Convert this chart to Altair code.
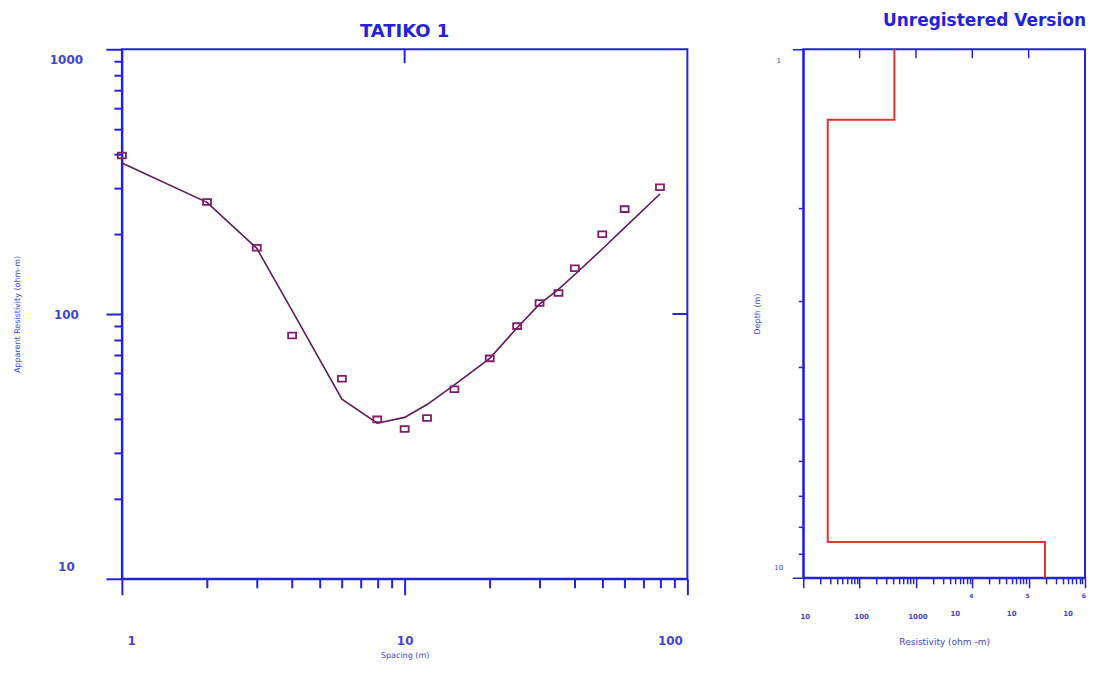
import altair as alt
import pandas as pd

# ---------------- data ----------------
spacing = [1, 2, 3, 4, 6, 8, 10, 12, 15, 20, 25, 30, 35, 40, 50, 60, 80]
observed = [397, 265, 178, 83, 57, 40, 36.8, 40.5, 52, 68, 90, 110, 120, 149, 200, 249, 301]
model = [372, 264, 177, 103, 47.7, 38.7, 40.7, 45.5, 54, 68, 88.7, 109, 124, 141, 176, 212, 284]

layer_resistivity = [414, 27.2, 195000]
layer_top = [1, 1.36, 8.56]
layer_bottom = [1.36, 8.56, 10]

x_tick_values = [1, 2, 3, 4, 5, 6, 7, 8, 9, 10, 20, 30, 40, 50, 60, 70, 80, 90, 100]
x_major = [1, 10, 100]
y_tick_values = [10, 20, 30, 40, 50, 60, 70, 80, 90, 100, 200, 300, 400, 500, 600, 700, 800, 900, 1000]
y_major = [10, 100, 1000]

depth_tick_values = [1, 2, 3, 4, 5, 6, 7, 8, 9, 10]
depth_major = [1, 10]
res_tick_values = [m * d for d in [10, 100, 1000, 10000, 100000] for m in range(1, 10)] + [1000000]
res_major = [10, 100, 1000, 10000, 100000, 1000000]
res_plain_vals = [10, 100, 1000]
res_plain_text = ["10", "100", "1000"]
res_pow_vals = [10000, 100000, 1000000]
res_pow_base = ["10", "10", "10"]
res_pow_exp = ["4", "5", "6"]

inner_x_ticks = [10]
inner_y_ticks = [100]
inner_res_ticks = [100, 1000, 10000, 100000]

AX = "#2424d6"
TXT = "#4444d4"
FONT = "DejaVu Sans"

W1, H1 = 566, 530
W2, H2 = 282, 529


def is_in(vals):
    return " || ".join(f"datum.value == {v}" for v in vals)


def label_expr(vals):
    return f"({is_in(vals)}) ? format(datum.value, 'd') : ''"


# ---------------- left panel ----------------
df_obs = pd.DataFrame({"spacing": spacing, "rho": observed})
df_mod = pd.DataFrame({"spacing": spacing, "rho": model})

sx = alt.Scale(type="log", domain=[1, 100], nice=False)
sy = alt.Scale(type="log", domain=[10, 1000], nice=False)

x_axis = alt.Axis(
    values=x_tick_values, labelExpr=label_expr(x_major), grid=False,
    domainColor=AX, domainWidth=2, tickColor=AX, tickWidth=2,
    tickSize={"condition": {"test": is_in(x_major), "value": 16}, "value": 9},
    labelColor=TXT, labelFont=FONT, labelFontWeight="bold", labelFontSize=12,
    labelPadding=41, labelFlush=True, labelFlushOffset=-5,
    title="Spacing (m)", titleColor=TXT, titleFont=FONT, titleFontSize=8,
    titleFontWeight="normal", titleX=W1 / 2, titleY=77, titleBaseline="middle",
)
y_axis = alt.Axis(
    values=y_tick_values, labelExpr=label_expr(y_major), grid=False,
    domainColor=AX, domainWidth=2, tickColor=AX, tickWidth=2,
    tickSize={"condition": {"test": is_in(y_major), "value": 16}, "value": 8},
    labelColor=TXT, labelFont=FONT, labelFontWeight="bold", labelFontSize=12,
    labelAlign="center", labelPadding=40, labelFlush=True, labelFlushOffset=-5,
    title="Apparent Resistivity (ohm-m)", titleColor=TXT, titleFont=FONT, titleFontSize=8,
    titleFontWeight="normal", titleX=-100, titleY=H1 / 2,
)

curve = alt.Chart(df_mod).mark_line(color="#5e1a5c", strokeWidth=1.6).encode(
    x=alt.X("spacing:Q", scale=sx, axis=x_axis),
    y=alt.Y("rho:Q", scale=sy, axis=y_axis),
)
pts = alt.Chart(df_obs).mark_point(
    shape="M-1,-0.72L1,-0.72L1,0.72L-1,0.72Z", filled=False, size=64,
    strokeWidth=1.8, color="#7f1d6c", opacity=1,
).encode(x=alt.X("spacing:Q", scale=sx), y=alt.Y("rho:Q", scale=sy))

top_tick = alt.Chart(pd.DataFrame({"v": inner_x_ticks})).mark_rule(color=AX, strokeWidth=2).encode(
    x=alt.X("v:Q", scale=sx), y=alt.value(0), y2=alt.value(14))
right_tick = alt.Chart(pd.DataFrame({"v": inner_y_ticks})).mark_rule(color=AX, strokeWidth=2).encode(
    y=alt.Y("v:Q", scale=sy), x=alt.value(W1 - 15), x2=alt.value(W1))

left = alt.layer(curve, pts, top_tick, right_tick).properties(
    width=W1, height=H1,
    title=alt.TitleParams("TATIKO 1", font=FONT, fontSize=18, fontWeight="bold",
                          color=AX, anchor="middle", offset=7),
)

# ---------------- right panel ----------------
rows = []
k = 0
for r, t, b in zip(layer_resistivity, layer_top, layer_bottom):
    rows.append({"res": r, "depth": t, "o": k}); k += 1
    rows.append({"res": r, "depth": b, "o": k}); k += 1
df_prof = pd.DataFrame(rows)

rx = alt.Scale(type="log", domain=[10, 1000000], nice=False)
ry = alt.Scale(type="log", domain=[1, 10], nice=False, reverse=True)

rx_axis = alt.Axis(
    values=res_tick_values, labels=False, grid=False,
    domainColor=AX, domainWidth=2, tickColor=AX, tickWidth=1.5,
    tickSize={"condition": {"test": is_in(res_major), "value": 10}, "value": 6},
    title="Resistivity (ohm -m)", titleColor=TXT, titleFont=FONT, titleFontSize=9,
    titleFontWeight="normal", titleX=W2 / 2, titleY=64, titleBaseline="middle",
)
ry_axis = alt.Axis(
    values=depth_tick_values, labelExpr=label_expr(depth_major), grid=False,
    domainColor=AX, domainWidth=2, tickColor=AX, tickWidth=1.5,
    tickSize={"condition": {"test": is_in(depth_major), "value": 11}, "value": 5},
    labelColor=TXT, labelFont=FONT, labelFontSize=7, labelAlign="center",
    labelPadding=14, labelFlush=True, labelFlushOffset=-7,
    title="Depth (m)", titleColor=TXT, titleFont=FONT, titleFontSize=8,
    titleFontWeight="normal", titleX=-42, titleY=H2 / 2,
)

prof = alt.Chart(df_prof).mark_line(color="#e8302c", strokeWidth=2).encode(
    x=alt.X("res:Q", scale=rx, axis=rx_axis),
    y=alt.Y("depth:Q", scale=ry, axis=ry_axis),
    order="o:Q",
)
r_top_ticks = alt.Chart(pd.DataFrame({"v": inner_res_ticks})).mark_rule(color=AX, strokeWidth=1.5).encode(
    x=alt.X("v:Q", scale=rx), y=alt.value(0), y2=alt.value(9))

lab_plain = alt.Chart(pd.DataFrame({"v": res_plain_vals, "t": res_plain_text})).mark_text(
    font=FONT, fontSize=7, fontWeight="bold", color=TXT, baseline="middle", dx=2,
).encode(x=alt.X("v:Q", scale=rx), y=alt.value(H2 + 39), text="t:N")
lab_base = alt.Chart(pd.DataFrame({"v": res_pow_vals, "t": res_pow_base})).mark_text(
    font=FONT, fontSize=7, fontWeight="bold", color=TXT, baseline="middle", dx=-17,
).encode(x=alt.X("v:Q", scale=rx), y=alt.value(H2 + 36), text="t:N")
lab_exp = alt.Chart(pd.DataFrame({"v": res_pow_vals, "t": res_pow_exp})).mark_text(
    font=FONT, fontSize=6, fontWeight="bold", color=TXT, baseline="middle", align="right", dx=1,
).encode(x=alt.X("v:Q", scale=rx), y=alt.value(H2 + 18), text="t:N")

right = alt.layer(prof, r_top_ticks, lab_plain, lab_base, lab_exp).properties(
    width=W2, height=H2,
    title=alt.TitleParams("Unregistered Version", font=FONT, fontSize=17, fontWeight="bold",
                          color=AX, anchor="end", offset=15),
)

chart = alt.hconcat(left, right, spacing=116, bounds="flush").properties(
    padding={"left": 5, "top": 3, "right": 0, "bottom": 0},
    background="white",
).configure_view(stroke=AX, strokeWidth=2)

chart.save("out.html", embed_options={"renderer": "svg", "actions": False})
